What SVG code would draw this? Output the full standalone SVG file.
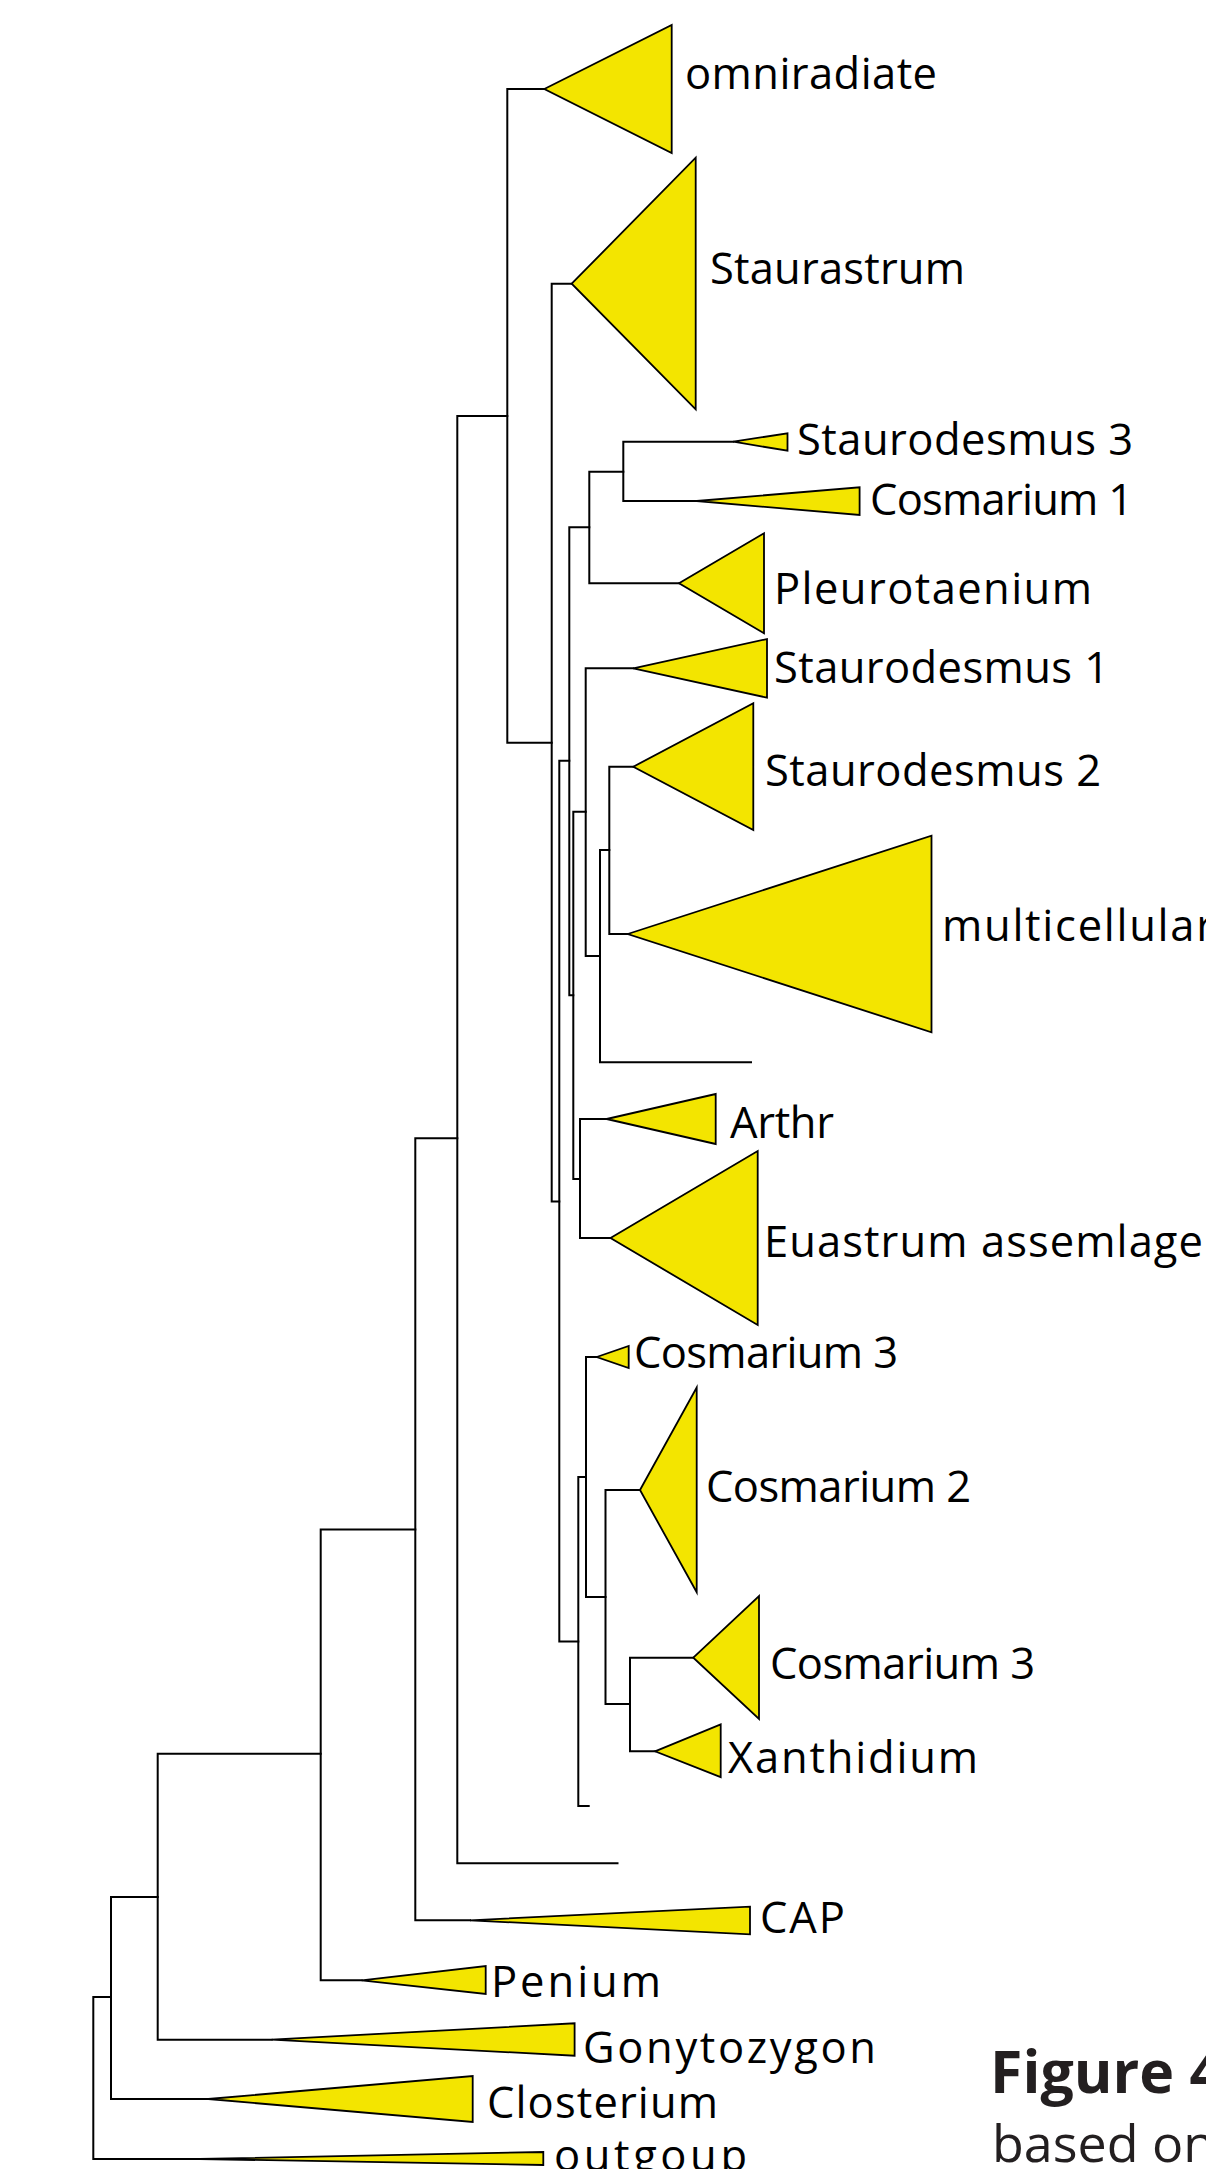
<svg xmlns="http://www.w3.org/2000/svg" width="1206" height="2169" viewBox="0 0 1206 2169">
<style>
.br{fill:none;stroke:#000;stroke-width:2;stroke-linecap:square}
.tri{fill:#F3E500;stroke:#000;stroke-width:1.8;stroke-linejoin:miter}
.lb{font-family:"Open Sans","Noto Sans",sans-serif;font-size:43.5px;fill:#000}
.cap{font-family:"Open Sans","Noto Sans",sans-serif;fill:#231f20}
</style>
<rect x="0" y="0" width="1206" height="2169" fill="#fff"/>
<g id="connectors">
<path class="br" d="M93.3 1997V2159M93.3 1997H111M93.3 2159H200"/>
<path class="br" d="M111 1897V2099M111 1897H157.7M111 2099H208.3"/>
<path class="br" d="M157.7 1753.7V2039.7M157.7 1753.7H320.7M157.7 2039.7H271.7"/>
<path class="br" d="M320.7 1529.6V1980.3M320.7 1529.6H415.3M320.7 1980.3H361.7"/>
<path class="br" d="M415.3 1138.3V1920.3M415.3 1138.3H457.3M415.3 1920.3H470"/>
<path class="br" d="M457.3 416V1863.3M457.3 416H507.3M457.3 1863.3H617.5"/>
<path class="br" d="M507.3 89V742.7M507.3 89H544.3M507.3 742.7H551.7"/>
<path class="br" d="M551.7 283.7V1201.5M551.7 283.7H571.7M551.7 1201.5H559.3"/>
<path class="br" d="M559.3 760.7V1641.5M559.3 760.7H569.3M559.3 1641.5H578.3"/>
<path class="br" d="M569.3 527.3V995.3M569.3 527.3H589.3M569.3 995.3H573.3"/>
<path class="br" d="M589.3 471.7V583.3M589.3 471.7H623.3M589.3 583.3H679"/>
<path class="br" d="M623.3 441.7V501M623.3 441.7H733.3M623.3 501H696.7"/>
<path class="br" d="M573.3 811.7V1179M573.3 811.7H585.7M573.3 1179H580"/>
<path class="br" d="M585.7 668.3V956M585.7 668.3H633.3M585.7 956H600"/>
<path class="br" d="M600 850V1062.3M600 850H609.3M600 1062.3H751"/>
<path class="br" d="M609.3 766.7V934M609.3 766.7H633.3M609.3 934H627.7"/>
<path class="br" d="M580 1119V1238M580 1119H606.7M580 1238H610.5"/>
<path class="br" d="M578.3 1477V1806M578.3 1477H586M578.3 1806H588.7"/>
<path class="br" d="M586 1357V1597M586 1357H596.7M586 1597H605.5"/>
<path class="br" d="M605.5 1490V1704M605.5 1490H640M605.5 1704H630"/>
<path class="br" d="M630 1657.7V1751.3M630 1657.7H693.3M630 1751.3H655"/>
</g>
<g id="omniradiate"><polygon class="tri" points="544.3,89 671.7,25 671.7,153"/><text class="lb" x="685" y="89" textLength="252">omniradiate</text></g>
<g id="staurastrum"><polygon class="tri" points="571.7,283.7 695.7,157.7 695.7,409.3"/><text class="lb" x="710" y="284" textLength="255">Staurastrum</text></g>
<g id="staurodesmus3"><polygon class="tri" points="733.3,441.7 787.5,433.3 787.5,450.7"/><text class="lb" x="797" y="455" textLength="336">Staurodesmus 3</text></g>
<g id="cosmarium1"><polygon class="tri" points="696.7,501 859.6,487.3 859.6,515"/><text class="lb" x="870" y="515" textLength="263">Cosmarium 1</text></g>
<g id="pleurotaenium"><polygon class="tri" points="679,583.3 764,533.3 764,633.3"/><text class="lb" x="774" y="604" textLength="318">Pleurotaenium</text></g>
<g id="staurodesmus1"><polygon class="tri" points="633.3,668.3 767,639 767,697.7"/><text class="lb" x="774" y="683" textLength="335">Staurodesmus 1</text></g>
<g id="staurodesmus2"><polygon class="tri" points="633.3,766.7 753.3,703.3 753.3,830"/><text class="lb" x="765" y="786" textLength="336">Staurodesmus 2</text></g>
<g id="multicellular"><polygon class="tri" points="627.7,934 931.5,835.7 931.5,1032.3"/><text class="lb" x="942" y="941" textLength="272">multicellular</text></g>
<g id="arthr"><polygon class="tri" points="606.7,1119 715.7,1094 715.7,1144"/><text class="lb" x="730" y="1138" textLength="104">Arthr</text></g>
<g id="euastrum"><polygon class="tri" points="610.5,1238 757.7,1151 757.7,1325"/><text class="lb" x="764" y="1257" textLength="439">Euastrum assemlage</text></g>
<g id="cosmarium3a"><polygon class="tri" points="596.7,1357 628.7,1346 628.7,1368"/><text class="lb" x="634" y="1368" textLength="264">Cosmarium 3</text></g>
<g id="cosmarium2"><polygon class="tri" points="640,1490 696.7,1387.6 696.7,1592.2"/><text class="lb" x="706" y="1502" textLength="265">Cosmarium 2</text></g>
<g id="cosmarium3b"><polygon class="tri" points="693.3,1657.7 759,1596 759,1719"/><text class="lb" x="770" y="1679" textLength="265">Cosmarium 3</text></g>
<g id="xanthidium"><polygon class="tri" points="655,1751.3 720.7,1724.3 720.7,1777.2"/><text class="lb" x="728" y="1773" textLength="250">Xanthidium</text></g>
<g id="cap"><polygon class="tri" points="470,1920.3 750,1906.7 750,1934.3"/><text class="lb" x="760" y="1933" textLength="85">CAP</text></g>
<g id="penium"><polygon class="tri" points="361.7,1980.3 485.7,1966 485.7,1994"/><text class="lb" x="491" y="1997" textLength="170">Penium</text></g>
<g id="gonytozygon"><polygon class="tri" points="271.7,2039.7 574.6,2023.3 574.6,2055.7"/><text class="lb" x="583" y="2063" textLength="293">Gonytozygon</text></g>
<g id="closterium"><polygon class="tri" points="208.3,2099 472.7,2076 472.7,2122"/><text class="lb" x="487" y="2118" textLength="231">Closterium</text></g>
<g id="outgroup"><polygon class="tri" points="200,2159 543.3,2152 543.3,2165"/><text class="lb" x="554" y="2171" textLength="193">outgoup</text></g>
<g id="caption">
<text class="cap" x="990" y="2093" font-size="59" font-weight="bold">Figure 4</text>
<text class="cap" x="992" y="2162" font-size="52">based on</text>
</g>
</svg>
